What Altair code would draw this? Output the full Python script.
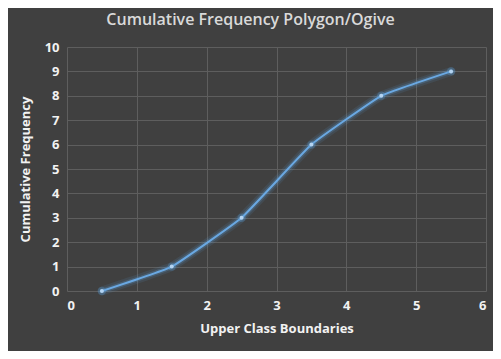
import altair as alt
import pandas as pd

upper_bounds = [0.5, 1.5, 2.5, 3.5, 4.5, 5.5]
cum_freq = [0, 1, 3, 6, 8, 9]
x_ticks = [0, 1, 2, 3, 4, 5, 6]
y_ticks = [0, 1, 2, 3, 4, 5, 6, 7, 8, 9, 10]

df = pd.DataFrame({"x": upper_bounds, "y": cum_freq})

FONT = "Open Sans"
BLUE = "#5b9bd5"
INTERP = "cardinal"
TENSION = 0.7

xenc = alt.X("x:Q", scale=alt.Scale(domain=[0, 6], nice=False),
             axis=alt.Axis(values=x_ticks, title="Upper Class Boundaries", format="d"))
yenc = alt.Y("y:Q", scale=alt.Scale(domain=[0, 10], nice=False),
             axis=alt.Axis(values=y_ticks, title="Cumulative Frequency", format="d"))

base = alt.Chart(df).encode(x=xenc, y=yenc)

glow2 = base.mark_line(interpolate=INTERP, tension=TENSION, color=BLUE, strokeWidth=9, opacity=0.12, strokeCap="round")
glow1 = base.mark_line(interpolate=INTERP, tension=TENSION, color=BLUE, strokeWidth=5, opacity=0.25, strokeCap="round")
line = base.mark_line(interpolate=INTERP, tension=TENSION, color="#6aa8e2", strokeWidth=2)
pglow = base.mark_circle(color=BLUE, size=70, opacity=0.3)
pts = base.mark_circle(color="#b4d4f2", size=16, opacity=1)

chart = (glow2 + glow1 + line + pglow + pts).properties(
    width=419,
    height=244,
    autosize=alt.AutoSizeParams(type="none"),
    padding={"left": 59, "top": 39, "right": 7, "bottom": 60},
    background="#404040",
    title=alt.TitleParams(
        "Cumulative Frequency Polygon/Ogive",
        font=FONT, fontSize=16, fontWeight=600, color="#d9d9d9",
        anchor="middle", dx=-26, offset=13,
    ),
).configure_view(stroke=None).configure_axis(
    grid=True,
    gridColor="#5e5e5e",
    gridWidth=1,
    domain=False,
    ticks=False,
    labelFont=FONT,
    labelFontSize=13,
    labelFontWeight="bold",
    labelColor="#f2f2f2",
    titleFont=FONT,
    titleFontSize=13,
    titleFontWeight="bold",
    titleColor="#f2f2f2",
    labelPadding=8,
).configure_axisX(titlePadding=10).configure_axisY(titlePadding=12)

chart.save("out.html", embed_options={"renderer": "svg", "actions": False})
